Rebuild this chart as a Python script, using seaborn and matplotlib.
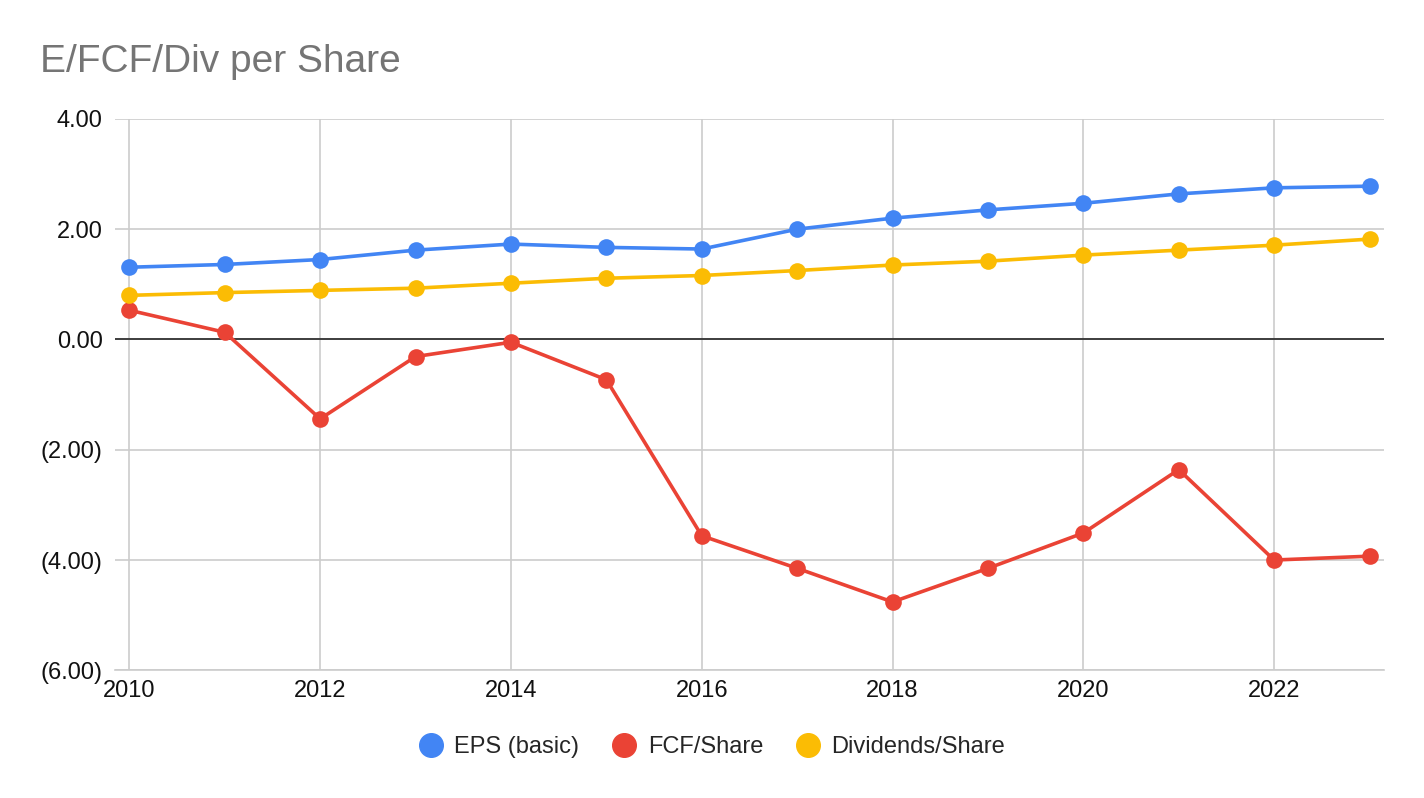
import matplotlib
matplotlib.use("Agg")
import matplotlib.pyplot as plt
from matplotlib.ticker import FuncFormatter, MultipleLocator
import seaborn as sns
import pandas as pd

years = list(range(2010, 2024))
eps_basic = [1.31, 1.36, 1.45, 1.62, 1.73, 1.67, 1.64, 2.00, 2.20, 2.35, 2.47, 2.64, 2.75, 2.78]
fcf_share = [0.53, 0.13, -1.44, -0.31, -0.05, -0.73, -3.56, -4.15, -4.76, -4.15, -3.51, -2.36, -4.00, -3.93]
div_share = [0.80, 0.85, 0.89, 0.93, 1.02, 1.11, 1.16, 1.25, 1.35, 1.42, 1.53, 1.62, 1.71, 1.82]

series = ["EPS (basic)", "FCF/Share", "Dividends/Share"]
colors = ["#4285F4", "#EA4335", "#FBBC04"]

df = pd.concat([
    pd.DataFrame({"Year": years, "Value": vals, "Series": name})
    for name, vals in zip(series, [eps_basic, fcf_share, div_share])
])

sns.set_theme(style="white")
plt.rcParams["font.family"] = ["Liberation Sans", "DejaVu Sans"]

fig = plt.figure(figsize=(14.24, 7.98), dpi=100)
ax = fig.add_axes([0.0808, 0.160, 0.891, 0.691])

ax.axhline(0, color="#333333", lw=1.3, zorder=1)
sns.lineplot(data=df, x="Year", y="Value", hue="Series", palette=colors,
             marker="o", markersize=12, markeredgewidth=0, linewidth=2.6,
             ax=ax, legend=False, zorder=3)

ax.set_xlim(2009.85, 2023.15)
ax.set_ylim(-6, 4)
ax.xaxis.set_major_locator(MultipleLocator(2))
ax.yaxis.set_major_locator(MultipleLocator(2))
ax.yaxis.set_major_formatter(FuncFormatter(
    lambda v, p: f"({abs(v):.2f})" if v < 0 else f"{v:.2f}"))
ax.grid(True, color="#cccccc", lw=1.2, zorder=0)
for s in ["top", "right", "left"]:
    ax.spines[s].set_visible(False)
ax.spines["bottom"].set_color("#cccccc")
ax.spines["bottom"].set_linewidth(1.2)
ax.tick_params(axis="both", labelsize=17, colors="#111111", length=0)
ax.tick_params(axis="x", pad=7)
ax.tick_params(axis="y", pad=9)
ax.set_xlabel("")
ax.set_ylabel("")

fig.text(0.028, 0.922, "E/FCF/Div per Share", fontsize=28, color="#757575",
         va="center", ha="left")

handles = [plt.Line2D([], [], marker="o", ls="", color=c, markersize=17)
           for c in colors]
fig.legend(handles, series, loc="center", bbox_to_anchor=(0.5, 0.064),
           ncol=3, frameon=False, fontsize=17, handletextpad=0.5,
           columnspacing=1.4, handlelength=1.0)

fig.savefig("out.png", dpi=100)
